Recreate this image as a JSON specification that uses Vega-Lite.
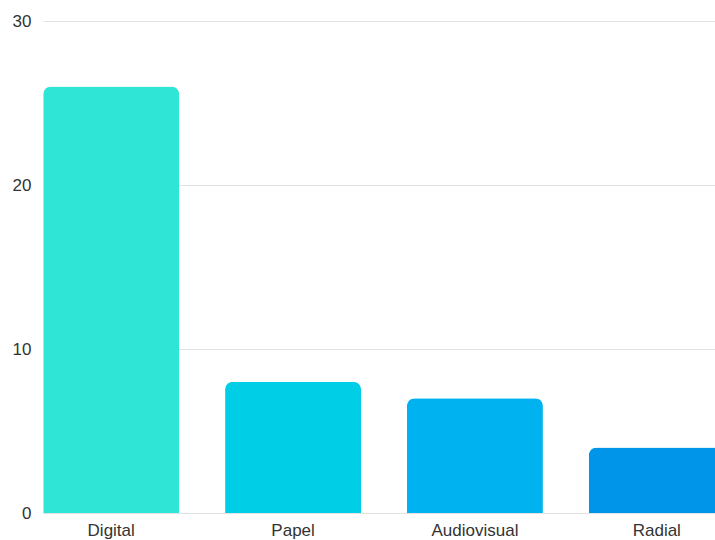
{
  "$schema": "https://vega.github.io/schema/vega-lite/v6.json",
  "autosize": {"type": "none"},
  "padding": {"left": 43, "top": 21, "right": 0, "bottom": 27},
  "width": 672,
  "height": 492,
  "data": {"values": [
    {"medio": "Digital", "valor": 26},
    {"medio": "Papel", "valor": 8},
    {"medio": "Audiovisual", "valor": 7},
    {"medio": "Radial", "valor": 4}
  ]},
  "config": {
    "view": {"stroke": null},
    "font": "Liberation Sans"
  },
  "mark": {"type": "bar", "cornerRadiusTopLeft": 8, "cornerRadiusTopRight": 8, "width": 136},
  "encoding": {
    "x": {
      "field": "medio", "type": "nominal", "sort": null,
      "scale": {"range": [0, 682], "paddingInner": 0.25, "paddingOuter": 0},
      "axis": {"title": null, "labelAngle": 0, "domain": false, "ticks": false, "labelFontSize": 17, "labelColor": "#333333", "labelPadding": 9}
    },
    "y": {
      "field": "valor", "type": "quantitative",
      "scale": {"domain": [0, 30], "nice": false},
      "axis": {"title": null, "values": [0, 10, 20, 30], "domain": false, "ticks": false, "labelFontSize": 17, "labelColor": "#333333", "labelPadding": 12, "gridColor": "#e3e3e3"}
    },
    "color": {
      "field": "medio", "type": "nominal", "sort": null, "legend": null,
      "scale": {"domain": ["Digital", "Papel", "Audiovisual", "Radial"], "range": ["#2ee5d6", "#00cde6", "#00b2ef", "#0095e8"]}
    }
  }
}
